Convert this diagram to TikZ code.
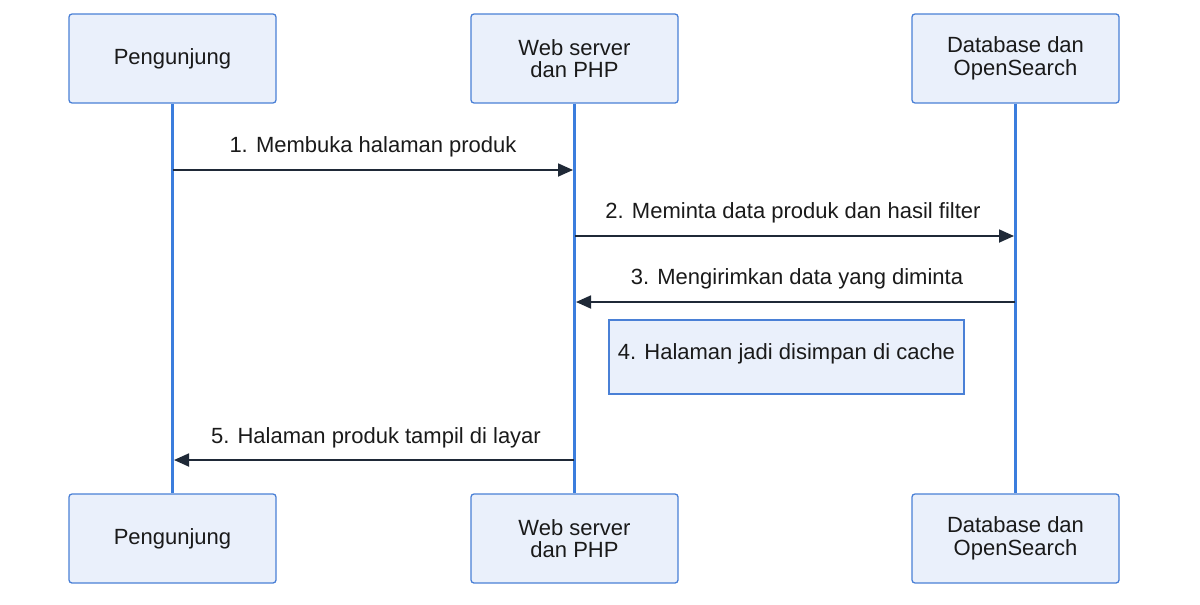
\documentclass[tikz,border=0pt]{standalone}
\usepackage{fontspec}
\setmainfont{Liberation Sans}
\usetikzlibrary{arrows.meta}
\definecolor{boxfill}{HTML}{EAF0FB}
\definecolor{boxline}{HTML}{4A80D6}
\definecolor{lifeline}{HTML}{3B7DDD}
\definecolor{msgline}{HTML}{1F2937}
\definecolor{txt}{HTML}{1A1A1A}
\tikzset{
  actor/.style={draw=boxline, fill=boxfill, line width=1.3pt, rounded corners=3pt,
    minimum width=207pt, minimum height=89pt, align=center, text=txt,
    font=\fontsize{22}{22.5}\selectfont, inner sep=0pt},
  life/.style={draw=lifeline, line width=2.4pt},
  msg/.style={draw=msgline, line width=1.8pt, -{Triangle[length=15pt,width=13pt]}},
  lbl/.style={text=txt, font=\fontsize{22}{22.5}\selectfont, inner sep=0pt},
  notebox/.style={draw=boxline, fill=boxfill, line width=1.1pt},
}
\begin{document}
\begin{tikzpicture}[x=1pt,y=-1pt]
\useasboundingbox (0,0) rectangle (1200,605);
% actors top
\node[actor] (p1) at (172.5,58.5) {Pengunjung};
\node[actor] (w1) at (574.5,58.5) {Web server\\dan PHP};
\node[actor] (d1) at (1015.5,58.5) {Database dan\\OpenSearch};
% actors bottom
\node[actor] (p2) at (172.5,538.5) {Pengunjung};
\node[actor] (w2) at (574.5,538.5) {Web server\\dan PHP};
\node[actor] (d2) at (1015.5,538.5) {Database dan\\OpenSearch};
% lifelines
\draw[life] (p1.south) -- (p2.north);
\draw[life] (w1.south) -- (w2.north);
\draw[life] (d1.south) -- (d2.north);
% message anchors
\coordinate (a1s) at (173,170);  \coordinate (a1e) at (573,170);
\coordinate (a2s) at (575,236);  \coordinate (a2e) at (1014,236);
\coordinate (a3s) at (1015,302); \coordinate (a3e) at (576,302);
\coordinate (a5s) at (574,460);  \coordinate (a5e) at (174,460);
\draw[msg] (a1s) -- (a1e);
\draw[msg] (a2s) -- (a2e);
\draw[msg] (a3s) -- (a3e);
\draw[msg] (a5s) -- (a5e);
\node[lbl] (l1) at (373,147) {1. Membuka halaman produk};
\node[lbl] (l2) at (793,213) {2. Meminta data produk dan hasil filter};
\node[lbl] (l3) at (797,279) {3. Mengirimkan data yang diminta};
\node[lbl] (l5) at (376,438) {5. Halaman produk tampil di layar};
% note
\draw[notebox] (609,320) rectangle (964,394);
\node[lbl] (n4) at (786.5,354) {4. Halaman jadi disimpan di cache};
\end{tikzpicture}
\end{document}
